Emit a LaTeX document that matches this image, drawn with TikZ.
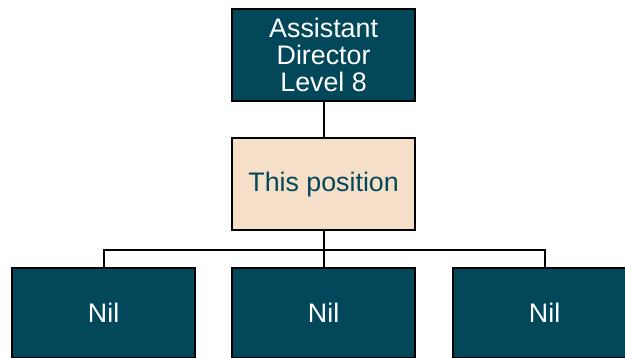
\documentclass[tikz,border=0pt]{standalone}
\usepackage{fontspec}
\setmainfont{Liberation Sans}
\definecolor{teal}{HTML}{02475A}
\definecolor{beige}{HTML}{F5DFC9}
\begin{document}
\begin{tikzpicture}[x=1pt,y=-1pt,
  box/.style={draw=black,line width=2.2pt,inner sep=0pt,minimum width=183pt,minimum height=92pt,anchor=north west,align=center,font=\fontsize{26.8}{27}\selectfont},
  dark/.style={box,fill=teal,text=white},
  light/.style={box,fill=beige,text=teal},
  conn/.style={draw=black,line width=2.2pt}]
\useasboundingbox (0,0) rectangle (625,358);
\node[dark] (top) at (231,8) {Assistant\\Director\\Level 8};
\node[light] (mid) at (231,137) {This position};
\node[dark,minimum height=90pt] (b1) at (11,267) {Nil};
\node[dark,minimum height=90pt] (b2) at (231,267) {Nil};
\node[dark,minimum height=90pt] (b3) at (452,267) {Nil};
\coordinate (bar) at ([yshift=-19pt]mid.south);
\draw[conn] (top.south) -- (mid.north);
\draw[conn] (mid.south) -- (b2.north);
\draw[conn] (b1.north) |- (bar) -| (b3.north);
\end{tikzpicture}
\end{document}
